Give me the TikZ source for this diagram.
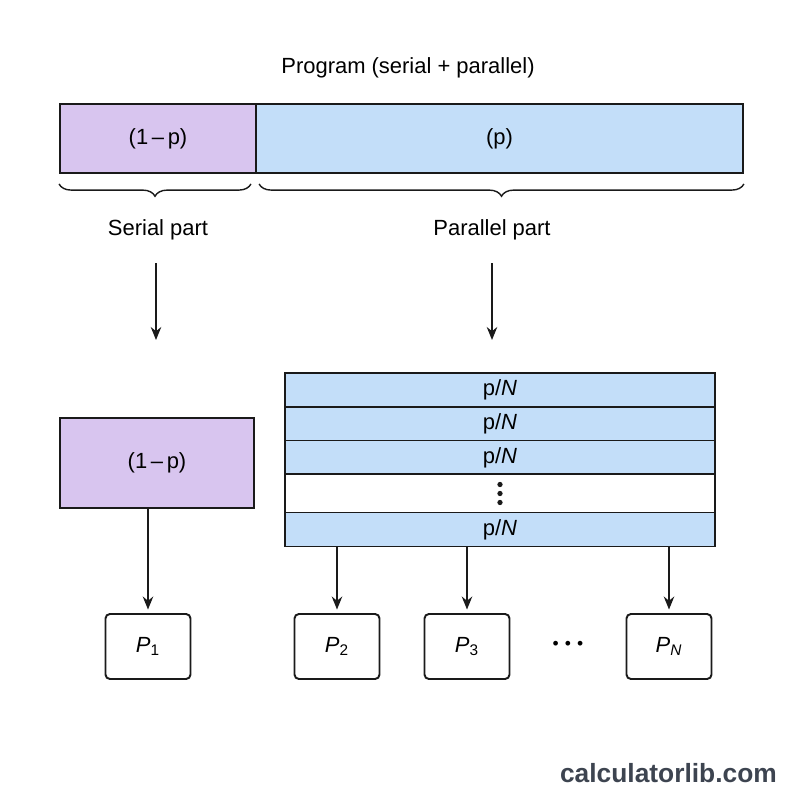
\documentclass[tikz,border=0pt]{standalone}
\usepackage{fontspec}
\setmainfont{Liberation Sans}
\setsansfont{Liberation Sans}
\usetikzlibrary{arrows.meta, decorations.pathreplacing}
\definecolor{serialfill}{HTML}{D8C5EF}
\definecolor{parfill}{HTML}{C3DEF9}
\definecolor{edge}{HTML}{1A1A1A}
\definecolor{markgray}{HTML}{3D4450}
\tikzset{
  flow/.style={-{Stealth[length=2.6mm, width=2.1mm]}, line width=0.9pt, color=edge},
  part/.style={draw=edge, line width=1.1pt, inner sep=0pt},
  proc/.style={draw=edge, line width=1.1pt, rounded corners=2.5pt, fill=white,
    minimum width=1.7cm, minimum height=1.3cm, inner sep=0pt},
  bracket/.style={decorate, decoration={brace, mirror, amplitude=7pt}, line width=0.8pt, color=edge},
  every node/.append style={font=\fontsize{12.5}{15}\selectfont}
}

\begin{document}
\begin{tikzpicture}[x=0.02cm, y=-0.02cm]
\useasboundingbox (0,0) rectangle (800,800);
% whole program
\node (title) at (408,68) {Program (serial + parallel)};
\node[part, fill=serialfill, minimum width=3.92cm, minimum height=1.38cm] (serialbar) at (158,138.5) {(1\,–\,p)};
\node[part, fill=parfill, minimum width=9.74cm, minimum height=1.38cm] (parbar) at (499.5,138.5) {(p)};
\draw[bracket] ([yshift=-0.2cm]serialbar.south west) -- ([yshift=-0.2cm, xshift=-0.12cm]serialbar.south east);
\draw[bracket] ([yshift=-0.2cm, xshift=0.08cm]parbar.south west) -- ([yshift=-0.2cm]parbar.south east);
\node (serial) at (158,230) {Serial part};
\node (parallel) at (492,230) {Parallel part};
\coordinate (serialtop) at (156,263);
\coordinate (serialend) at (156,340);
\coordinate (partop) at (492,263);
\coordinate (parend) at (492,340);
\draw[flow] (serialtop) -- (serialend);
\draw[flow] (partop) -- (parend);
% split work
\node[part, fill=serialfill, minimum width=3.88cm, minimum height=1.8cm] (serialbox) at (157,463) {(1\,–\,p)};
\foreach \i/\y in {1/390, 2/424, 3/457.5}
  \node[part, fill=parfill, minimum width=8.6cm, minimum height=0.68cm] (row\i) at (500,\y) {p/\textit{N}};
\node[part, fill=white, minimum width=8.6cm, minimum height=0.78cm] (row4) at (500,493.5) {};
\foreach \d in {-9, 0, 9}
  \fill[edge] ([yshift=-\d*0.02cm]row4.center) circle (1.5pt);
\node[part, fill=parfill, minimum width=8.6cm, minimum height=0.68cm] (row5) at (500,529.5) {p/\textit{N}};
% processors
\node[proc] (p1) at (148,646.5) {\textit{P}\textsubscript{1}};
\node[proc] (p2) at (337,646.5) {\textit{P}\textsubscript{2}};
\node[proc] (p3) at (467,646.5) {\textit{P}\textsubscript{3}};
\node[proc] (pN) at (669,646.5) {\textit{P}\textsubscript{\textit{N}}};
\node (dots) at (568,645) {\fontsize{10}{12}\selectfont\textbullet\hspace{3.5pt}\textbullet\hspace{3.5pt}\textbullet};
\draw[flow, shorten >=2pt] (serialbox.south -| p1.north) -- (p1.north);
\foreach \p in {p2, p3, pN}
  \draw[flow, shorten >=2pt] (row5.south -| \p.north) -- (\p.north);
\node[anchor=east, text=markgray, font=\fontsize{15}{18}\selectfont\bfseries] (mark) at (783,773) {calculatorlib.com};
\end{tikzpicture}
\end{document}
